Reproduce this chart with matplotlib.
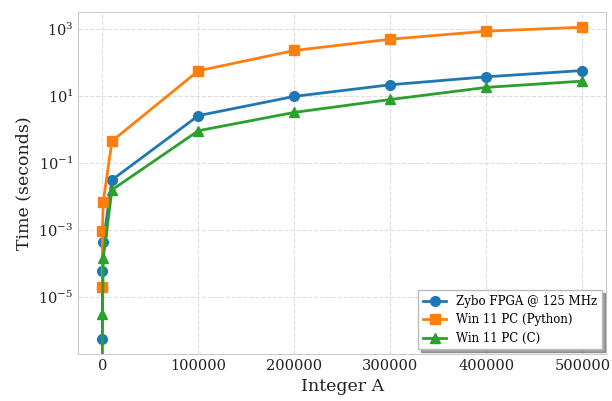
import matplotlib
matplotlib.use("Agg")
import matplotlib.pyplot as plt

plt.rcParams['font.family'] = ['DejaVu Serif']
plt.rcParams['mathtext.fontset'] = 'dejavuserif'

x_vals = [10, 100, 1000, 10000, 100000, 200000, 300000, 400000, 500000]
zybo = [5.6e-7, 5.7e-5, 4.2e-4, 0.031, 2.6, 9.8, 21.8, 37.7, 58]
py_pc = [1.9e-5, 8.9e-4, 7.0e-3, 0.45, 57, 231, 503, 871, 1148]
c_pc = [0, 3.1e-6, 1.46e-4, 0.0156, 0.92, 3.25, 7.9, 18.2, 28]

labels = ["Zybo FPGA @ 125 MHz", "Win 11 PC (Python)", "Win 11 PC (C)"]
colors = ["#1f77b4", "#ff7f0e", "#2ca02c"]
markers = ["o", "s", "^"]

fig, ax = plt.subplots(figsize=(6.12, 4.01), dpi=100)
for y, lab, c, m in zip([zybo, py_pc, c_pc], labels, colors, markers):
    ax.plot(x_vals, y, marker=m, color=c, label=lab, linewidth=2, markersize=7)

ax.set_yscale('log')
ax.set_xlabel("Integer A", fontsize=12.5, color='#222222')
ax.set_ylabel("Time (seconds)", fontsize=12.5, color='#222222')
ax.grid(True, linestyle='--', color='#dddddd', linewidth=0.8)
ax.set_axisbelow(True)
for s in ax.spines.values():
    s.set_color('#cccccc')
ax.tick_params(axis='both', which='both', length=0, labelsize=10.5, labelcolor='#222222')
ax.minorticks_off()
ax.set_yticks([1e-5, 1e-3, 1e-1, 1e1, 1e3])

leg = ax.legend(loc='lower right', fontsize=8.5, shadow=True, frameon=True, fancybox=False,
                labelspacing=0.45, borderaxespad=0.4)
leg.get_frame().set_edgecolor('#bbbbbb')

fig.subplots_adjust(left=0.128, right=0.991, top=0.971, bottom=0.117)
fig.savefig("out.png", dpi=100)
